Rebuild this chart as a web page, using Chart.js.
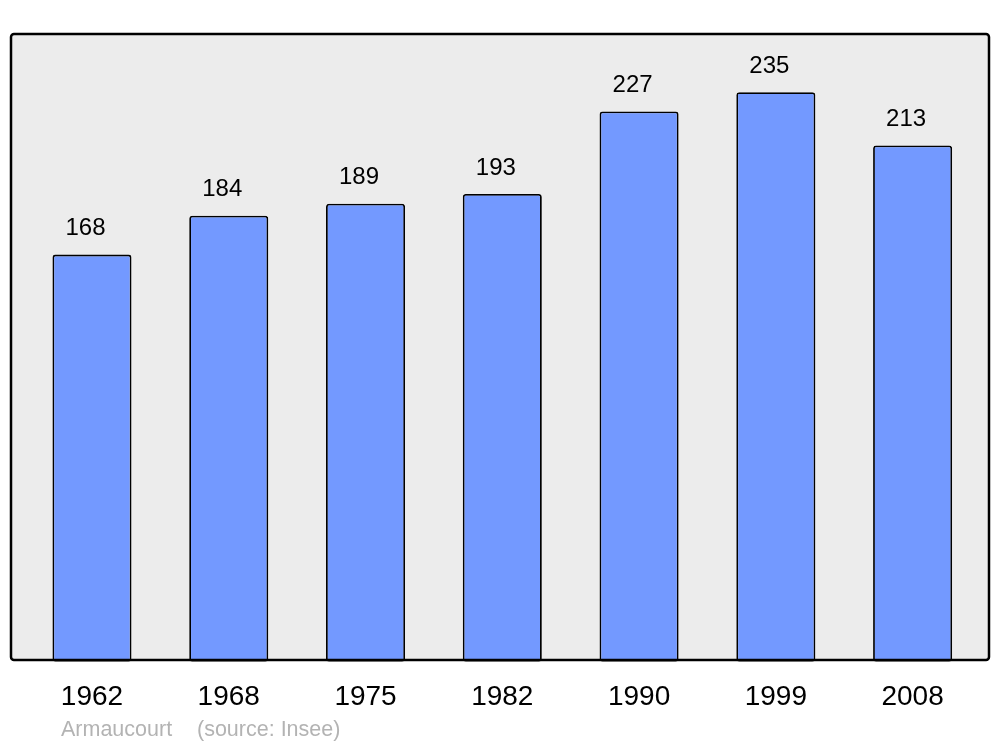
<!DOCTYPE html>
<html>
<head>
<meta charset="utf-8">
<script src="https://cdn.jsdelivr.net/npm/chart.js@4"></script>
<style>
  html, body { margin: 0; padding: 0; background: #fff; }
  canvas { display: block; }
</style>
</head>
<body>
<canvas id="pop-chart" width="1000" height="747"></canvas>
<script>
// Population of Armaucourt by census year
const years      = ['1962', '1968', '1975', '1982', '1990', '1999', '2008'];
const population = [168, 184, 189, 193, 227, 235, 213];
const footerName   = 'Armaucourt';
const footerSource = '(source: Insee)';

// Grey rounded box behind the bars; its border is stroked after the bars
// so the bar bottoms sit under it.
const frameBox = { left: 11, top: 34, right: 989, bottom: 660, radius: 3 };

function framePath(ctx) {
  const b = frameBox;
  ctx.beginPath();
  ctx.roundRect(b.left, b.top, b.right - b.left, b.bottom - b.top, b.radius);
}

const framePlugin = {
  id: 'frame',
  beforeDatasetsDraw(chart) {
    const ctx = chart.ctx;
    ctx.save();
    framePath(ctx);
    ctx.fillStyle = '#ececec';
    ctx.fill();
    ctx.restore();
  },
  afterDatasetsDraw(chart) {
    const ctx = chart.ctx;
    ctx.save();
    framePath(ctx);
    ctx.lineWidth = 2.5;
    ctx.strokeStyle = '#000';
    ctx.stroke();

    // value labels above each bar (sit a little left of the bar centre)
    const meta = chart.getDatasetMeta(0);
    ctx.fillStyle = '#000';
    ctx.font = '24px "Liberation Sans", Arial, sans-serif';
    ctx.textAlign = 'center';
    ctx.textBaseline = 'middle';
    meta.data.forEach((bar, i) => {
      ctx.fillText(String(population[i]), bar.x - 6.5, bar.y - 26);
    });

    // footer
    ctx.fillStyle = '#b3b3b3';
    ctx.font = '21.5px "Liberation Sans", Arial, sans-serif';
    ctx.textAlign = 'left';
    ctx.fillText(footerName, 61, 730);
    ctx.fillText(footerSource, 197, 730);
    ctx.restore();
  },
};

new Chart(document.getElementById('pop-chart').getContext('2d'), {
  type: 'bar',
  data: {
    labels: years,
    datasets: [{
      data: population,
      backgroundColor: '#7399ff',
      borderColor: '#000',
      borderWidth: 1.8,
      borderRadius: 3,
      borderSkipped: false,
      categoryPercentage: 1,
      barPercentage: 0.578,
    }],
  },
  options: {
    responsive: false,
    animation: false,
    layout: { padding: { top: 34, left: 23.6, right: 19, bottom: 15.2 } },
    plugins: {
      legend: { display: false },
      tooltip: { enabled: false },
    },
    scales: {
      x: {
        grid: { display: false, drawTicks: false },
        border: { display: false },
        ticks: {
          color: '#000',
          padding: 18.2,
          font: { family: '"Liberation Sans", Arial, sans-serif', size: 28 },
          maxRotation: 0,
        },
      },
      y: {
        display: false,
        min: 0,
        max: 259,
      },
    },
  },
  plugins: [framePlugin],
});
</script>
</body>
</html>
